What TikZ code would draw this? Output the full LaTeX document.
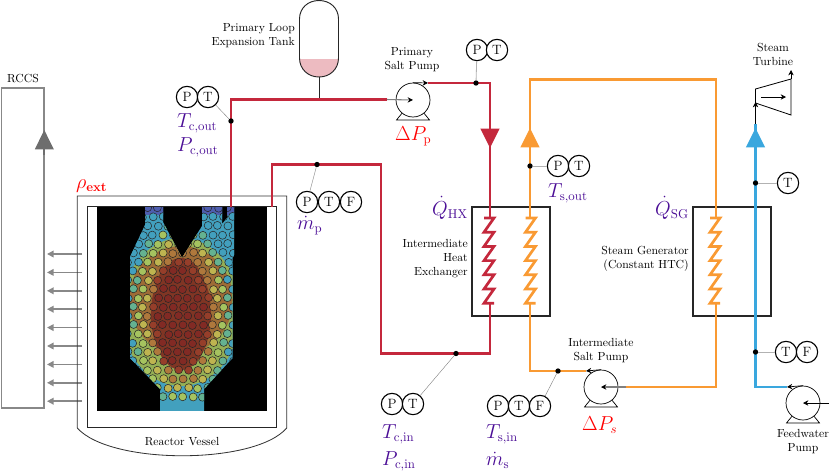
\documentclass[tikz,border=0pt]{standalone}
\usepackage{amsmath}
\usepackage{xcolor}
\usetikzlibrary{arrows.meta}

\definecolor{hotred}{RGB}{196,40,60}
\definecolor{saltorange}{RGB}{249,154,51}
\definecolor{steamblue}{RGB}{58,167,222}
\definecolor{labelpurple}{RGB}{75,14,150}
\definecolor{tankpink}{RGB}{237,187,193}
\definecolor{rccsgray}{RGB}{136,136,136}
\definecolor{core0}{RGB}{130,42,36}
\definecolor{core1}{RGB}{150,62,42}
\definecolor{core2}{RGB}{175,120,60}
\definecolor{core3}{RGB}{190,180,80}
\definecolor{core4}{RGB}{165,195,95}
\definecolor{core5}{RGB}{100,178,145}
\definecolor{core6}{RGB}{66,160,190}
\definecolor{core7}{RGB}{78,94,175}

\tikzset{
    instr/.style={circle,draw=black,line width=0.95pt,fill=white,minimum size=0.64cm,inner sep=0pt,font=\fontsize{11.5}{12}\selectfont},
    smalldot/.style={circle,fill=black,minimum size=0.16cm,inner sep=0pt},
    lead/.style={gray!60,line width=0.7pt},
    thinlead/.style={gray,line width=0.35pt},
    hotpipe/.style={hotred,line width=2pt},
    saltpipe/.style={saltorange,line width=2pt},
    steampipe/.style={steamblue,line width=2pt},
    flowtip/.style={-{Triangle[length=0.58cm,width=0.56cm]}},
    pumpbody/.style={circle,draw=black,line width=0.6pt,fill=white,minimum size=1.02cm,inner sep=0pt},
    pumpfeet/.pic={\draw[black,line width=0.6pt,fill=white] (-16.5,20) -- (16.5,20) -- (10,12) -- (-10,12) -- cycle;},
    shaftline/.style={gray,line width=0.9pt,-{Stealth[black,length=0.16cm,width=0.16cm]}},
    tangent/.style={black,line width=0.6pt,-{Stealth[black,length=0.16cm,width=0.16cm]}},
    varlabel/.style={labelpurple,font=\fontsize{16}{18}\selectfont,anchor=base west,inner sep=0pt},
    redlabel/.style={red,font=\fontsize{16}{18}\selectfont,anchor=base west,inner sep=0pt},
    caption/.style={font=\fontsize{10}{11.9}\selectfont,inner sep=0pt},
    heat/.style={rccsgray,line width=1.3pt,-{Triangle[length=0.2cm,width=0.2cm]}},
    boxline/.style={black!85,line width=1.1pt},
}

\newcommand{\coil}[2]{
    \draw[#2,line width=2.3pt,line join=miter]
        (#1-5,218) -- (#1+5,218) -- (#1-5,232.2) -- (#1+5,232.2) -- (#1-5,246.4) -- (#1+5,246.4) -- (#1-5,260.6)
        -- (#1+5,260.6) -- (#1-5,274.8) -- (#1+5,274.8) -- (#1-5,289) -- (#1+5,289) -- (#1-5,303.2) -- (#1+5,303.2);
}

\begin{document}
\begin{tikzpicture}[x=0.03cm,y=-0.03cm]
    \useasboundingbox (0,0) rectangle (830,470);

    % pipe corners
    \coordinate (A) at (231,207);
    \coordinate (B) at (231,99.5);
    \coordinate (C) at (387,99.5);
    \coordinate (D) at (428,83);
    \coordinate (E) at (490,83);
    \coordinate (F) at (490,218);
    \coordinate (G) at (490,303);
    \coordinate (H) at (490,353.5);
    \coordinate (I) at (381,353.5);
    \coordinate (J) at (381,164.5);
    \coordinate (K) at (272,164.5);
    \coordinate (L) at (272,207);

    \coordinate (M) at (530,303);
    \coordinate (N) at (530,371);
    \coordinate (O) at (586,371);
    \coordinate (P) at (530,218);
    \coordinate (Q) at (530,79.5);
    \coordinate (R) at (716,79.5);
    \coordinate (S) at (716,218);
    \coordinate (U) at (716,303);
    \coordinate (V) at (716,387);
    \coordinate (W) at (626,387);

    \coordinate (X) at (787,387);
    \coordinate (Y) at (755.5,387);
    \coordinate (Z) at (755.5,124);

    % RCCS loop
    \draw[rccsgray,line width=1.4pt] (1.5,88) rectangle (44.3,408.3);
    \node[caption] (rccsText) at (23,78) {RCCS};
    \draw[rccsgray!80!black,line width=1.4pt,-{Triangle[length=0.58cm,width=0.56cm]}] (44.3,155) -- (44.3,130);
    \foreach \k in {0,...,8}{
        \draw[heat] (82,254+18.4*\k) -- (47,254+18.4*\k);
    }

    % vessel
    \draw[black!80,line width=0.7pt] (77.3,428) -- (77.3,196) -- (286.7,196) -- (286.7,428)
        .. controls (255,465) and (110,465) .. (77.3,428);
    \draw[boxline,line width=0.9pt] (87.7,206.7) rectangle (276.7,427.7);
    \node[caption] (vesselText) at (182,442) {Reactor Vessel};

    % core
    \fill[black] (96.5,207) rectangle (267.3,411);
    \begin{scope}
        \clip (145,207) -- (163,207) -- (163,222) -- (182,258) -- (202,226) -- (202,207) -- (222,207) -- (222,224)
            -- (227,218) -- (227,207) -- (234,207) -- (234,255) -- (232.5,258) -- (232.5,358) -- (204,389) -- (204,411)
            -- (160,411) -- (160,389) -- (130,358) -- (130,257) -- (145,225) -- cycle;
        \fill[core6] (96,207) rectangle (267,411);
        \fill[core7] (96,207) rectangle (267,215);
        \fill[core4!90!black] (181,312) ellipse [x radius=60,y radius=74];
        \fill[core2!90!black] (181,300) ellipse [x radius=52,y radius=54];
        \fill[core1!85!black] (181,314) ellipse [x radius=30,y radius=56];
        \pgfmathsetseed{4}
        \foreach \r in {0,...,21}{
            \foreach \c in {0,...,11}{
                \pgfmathsetmacro{\px}{128+\c*10+mod(\r,2)*5+rand*0.8}
                \pgfmathsetmacro{\py}{208+\r*9+rand*0.6}
                \pgfmathsetmacro{\dist}{sqrt(((\px-181)/38)^2+((\py-315)/75)^2)}
                \pgfmathtruncatemacro{\idx}{\py<214 ? 7 : min(6,max(0,int((\dist-0.52)/0.13)))}
                \draw[black!85,line width=0.45pt,fill=core\idx] (\px,\py) circle [radius=4];
            }
        }
    \end{scope}

    % tank
    \fill[tankpink] (299.5,59) -- (338.5,59) -- (338.5,58)
        .. controls (338.5,69) and (330,77) .. (319,77) .. controls (308,77) and (299.5,69) .. (299.5,58) -- cycle;
    \node[minimum size=0pt,inner sep=0pt] (tankBase) at (319,77) {};
    \draw[black!85,line width=0.8pt] (299.5,58) -- (299.5,19) .. controls (299.5,8) and (308,0.5) .. (319,0.5)
        .. controls (330,0.5) and (338.5,8) .. (338.5,19) -- (338.5,58)
        .. controls (338.5,69) and (330,77) .. (319,77) .. controls (308,77) and (299.5,69) .. (299.5,58);
    \node[caption,anchor=east,align=right] (tankText) at (295,36) {Primary Loop\\Expansion Tank};

    % heat exchanger boxes
    \draw[boxline] (472,207) rectangle (550,316);
    \draw[boxline] (693,207) rectangle (771,316);
    \node[caption,anchor=east,align=right] (hxText) at (468,259) {Intermediate\\Heat\\Exchanger};
    \node[caption,anchor=east,align=right] (sgText) at (689,259) {Steam Generator\\(Constant HTC)};

    % primary loop
    \draw[black!85,line width=0.8pt] (tankBase) -- (319,99.5);
    \draw[hotpipe] (A) -- (B) -- (C);
    \draw[hotpipe] (D) -- (E) -- (F);
    \draw[hotpipe,flowtip] (490,120) -- (490,148);
    \coil{489}{hotred}
    \draw[hotpipe] (G) -- (H) -- (I) -- (J) -- (K) -- (L);

    % intermediate loop
    \draw[saltpipe] (O) -- (N) -- (M);
    \coil{530.5}{saltorange}
    \draw[saltpipe] (P) -- (Q) -- (R) -- (S);
    \draw[saltpipe,flowtip] (530,155) -- (530,128);
    \coil{715}{saltorange}
    \draw[saltpipe] (U) -- (V) -- (W);

    % steam side
    \draw[steampipe] (X) -- (Y) -- (Z);
    \draw[steampipe,flowtip] (755.5,155) -- (755.5,128);
    \coordinate (turbA) at (755.5,89);
    \coordinate (turbB) at (791,79);
    \coordinate (turbC) at (791,115);
    \coordinate (turbD) at (755.5,103);
    \draw[black,line width=0.7pt] (turbD) -- (turbA) -- (turbB) -- (turbC) -- cycle;
    \draw[tangent] (Z) -- (755.5,102);
    \draw[tangent] (turbB) -- (791,70);
    \draw[tangent] (761,97) -- (786,97);
    \node[caption,align=center] (turbText) at (773,54) {Steam\\Turbine};

    % pumps
    \pic at (413,100) {pumpfeet};
    \node[pumpbody] (pumpPrimary) at (413,100) {};
    \draw[shaftline] (C) -- (pumpPrimary.center);
    \draw[tangent] (pumpPrimary.north) -- (D);
    \node[caption,align=center] (pumpPrimaryText) at (412,60) {Primary\\Salt Pump};

    \pic at (601,387) {pumpfeet};
    \node[pumpbody] (pumpSalt) at (601,387) {};
    \draw[shaftline] (W) -- (pumpSalt.center);
    \draw[tangent] (pumpSalt.north) -- (O);
    \node[caption,align=center] (pumpSaltText) at (601,351) {Intermediate\\Salt Pump};

    \pic at (803,403) {pumpfeet};
    \node[pumpbody] (pumpFeed) at (803,403) {};
    \coordinate (feedIn) at (829,403);
    \draw[shaftline,black,line width=0.6pt] (feedIn) -- (pumpFeed.center);
    \draw[tangent] (pumpFeed.north) -- (X);
    \node[caption,align=center] (pumpFeedText) at (803,442) {Feedwater\\Pump};

    % sensors
    \node[smalldot] (dotHotOut) at (231,121) {};
    \node[instr] (pHotOut) at (187,97) {P};
    \node[instr] (tHotOut) at (208,97) {T};
    \draw[thinlead] (tHotOut) -- (dotHotOut);

    \node[smalldot] (dotPump) at (476,83) {};
    \node[instr] (pPump) at (477,50) {P};
    \node[instr] (tPump) at (497,50) {T};
    \draw[lead] (pPump) -- (dotPump);

    \node[smalldot] (dotCold) at (317,164.5) {};
    \node[instr] (pCold) at (307,202) {P};
    \node[instr] (tCold) at (329,202) {T};
    \node[instr] (fCold) at (351,202) {F};
    \draw[thinlead] (pCold) -- (dotCold);

    \node[smalldot] (dotSaltOut) at (530,166) {};
    \node[instr] (pSaltOut) at (558,166) {P};
    \node[instr] (tSaltOut) at (579,166) {T};
    \draw[lead] (pSaltOut) -- (dotSaltOut);

    \node[smalldot] (dotSteam) at (755.5,183) {};
    \node[instr] (tSteam) at (788,183) {T};
    \draw[lead] (tSteam) -- (dotSteam);

    \node[smalldot] (dotFeed) at (755.5,352) {};
    \node[instr] (tFeed) at (786,352) {T};
    \node[instr] (fFeed) at (807,352) {F};
    \draw[lead] (tFeed) -- (dotFeed);

    \node[smalldot] (dotHotIn) at (456,353.5) {};
    \node[instr] (pHotIn) at (392,404) {P};
    \node[instr] (tHotIn) at (413,404) {T};
    \draw[thinlead] (tHotIn) -- (dotHotIn);

    \node[smalldot] (dotSaltIn) at (558,371) {};
    \node[instr] (pSaltIn) at (498,406) {P};
    \node[instr] (tSaltIn) at (519,406) {T};
    \node[instr] (fSaltIn) at (540,406) {F};
    \draw[thinlead] (fSaltIn) -- (dotSaltIn);

    % variables
    \node[redlabel] (rhoText) at (76,188) {$\rho_{\mathbf{ext}}$};
    \node[redlabel] (dpPrimary) at (395,140) {$\Delta P_{\mathrm{p}}$};
    \node[redlabel] (dpSalt) at (582,430) {$\Delta P_{s}$};
    \node[varlabel] (tcOut) at (177,127) {$T_{\mathrm{c,out}}$};
    \node[varlabel] (pcOut) at (177,151) {$P_{\mathrm{c,out}}$};
    \node[varlabel] (mPrimary) at (297,229) {$\dot{m}_{\mathrm{p}}$};
    \node[varlabel] (qHx) at (432,215) {$\dot{Q}_{\mathrm{HX}}$};
    \node[varlabel] (qSg) at (655,215) {$\dot{Q}_{\mathrm{SG}}$};
    \node[varlabel] (tsOut) at (548,197) {$T_{\mathrm{s,out}}$};
    \node[varlabel] (tcIn) at (382,438) {$T_{\mathrm{c,in}}$};
    \node[varlabel] (pcIn) at (382,465) {$P_{\mathrm{c,in}}$};
    \node[varlabel] (tsIn) at (486,438) {$T_{\mathrm{s,in}}$};
    \node[varlabel] (mSalt) at (486,465) {$\dot{m}_{\mathrm{s}}$};
\end{tikzpicture}
\end{document}
